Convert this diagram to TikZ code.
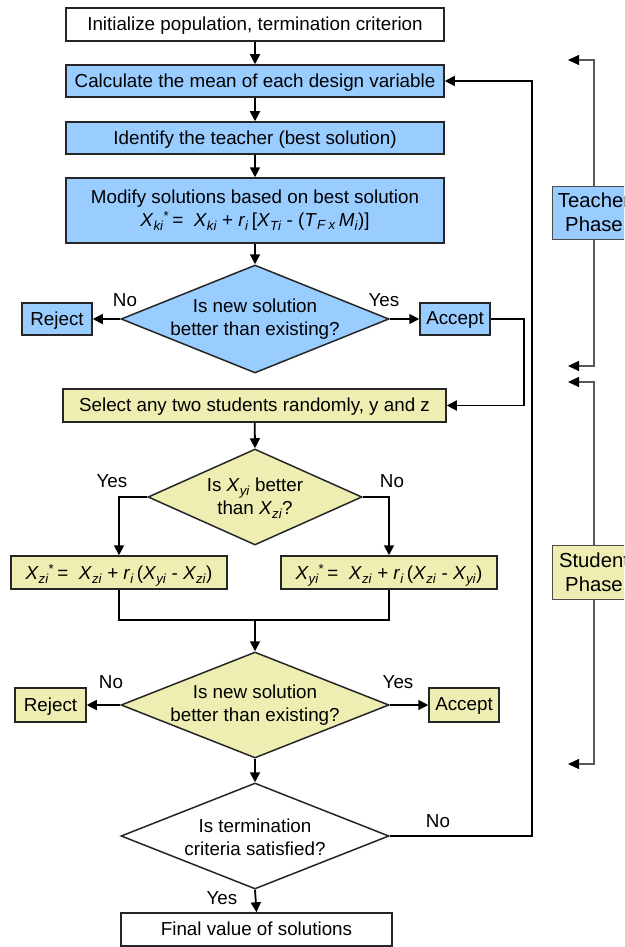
\documentclass[tikz,border=0pt]{standalone}
\usepackage{fontspec}
\setmainfont{Liberation Sans}
\usetikzlibrary{shapes.geometric,arrows.meta}
\definecolor{tblue}{RGB}{153,204,255}
\definecolor{syel}{RGB}{238,238,178}
\newcommand{\vsub}[1]{\textsubscript{\itshape #1}}
\newcommand{\vX}{\textit{X}}
\begin{document}
\begin{tikzpicture}[x=1pt,y=-1pt,
  font=\fontsize{18.8}{23}\selectfont,
  box/.style={draw=black!85, line width=1.5pt, inner sep=0pt, align=center},
  one/.style={text depth=1.5pt},
  dia/.style={draw=black!85, line width=1.5pt, diamond, inner sep=0pt},
  conn/.style={line width=1.8pt, -{Triangle[length=10pt,width=10pt]}},
  plain/.style={line width=1.8pt},
  brk/.style={draw=black!65, line width=1.2pt, -{Triangle[length=11pt,width=10pt,color=black,fill=black]}},
  phase/.style={draw=black!70, line width=1pt, inner sep=0pt, align=center, minimum width=84pt, font=\fontsize{20.3}{24}\selectfont},
  lbl/.style={inner sep=0pt, align=center}]
\clip (0,0) rectangle (624,947);
\fill[white] (0,0) rectangle (624,947);
% boxes
\node[box, one, fill=white, minimum width=378pt, minimum height=33pt] (init) at (255,24.5) {Initialize population, termination criterion};
\node[box, one, fill=tblue, minimum width=378pt, minimum height=32pt] (calc) at (255,81) {Calculate the mean of each design variable};
\node[box, one, fill=tblue, minimum width=378pt, minimum height=32pt] (ident) at (255,138) {Identify the teacher (best solution)};
\node[box, fill=tblue, minimum width=378pt, minimum height=65pt] (modify) at (255,210.5) {Modify solutions based on best solution\\
  \vX\vsub{ki}\textsuperscript{*}\,= \ \vX\vsub{ki} + \textit{r}\vsub{i}\,[\vX\vsub{Ti} - (\textit{T}\vsub{F}\,\vsub{x}\,\textit{M}\vsub{i})]};
\node[dia, fill=tblue, minimum width=268pt, minimum height=108pt] (d1) at (255,319) {};
\node[lbl] (d1t) at (255,319) {Is new solution\\better than existing?};
\node[box, one, fill=tblue, minimum width=70pt, minimum height=32pt] (rej1) at (57,319) {Reject};
\node[box, one, fill=tblue, minimum width=70pt, minimum height=32pt] (acc1) at (455,319) {Accept};
\node[box, one, fill=syel, minimum width=383pt, minimum height=33pt] (sel) at (254.5,405.5) {Select any two students randomly, y and z};
\node[dia, fill=syel, minimum width=214pt, minimum height=96pt] (d2) at (255,497) {};
\node[lbl] (d2t) at (255,498) {Is \vX\vsub{yi} better\\than \vX\vsub{zi}?};
\node[box, one, fill=syel, minimum width=216pt, minimum height=33pt] (bl) at (119,572.5) {\vX\vsub{zi}\textsuperscript{*}\,= \ \vX\vsub{zi} + \textit{r}\vsub{i}\,(\vX\vsub{yi} - \vX\vsub{zi})};
\node[box, one, fill=syel, minimum width=216pt, minimum height=33pt] (br) at (389,572.5) {\vX\vsub{yi}\textsuperscript{*}\,= \ \vX\vsub{zi} + \textit{r}\vsub{i}\,(\vX\vsub{zi} - \vX\vsub{yi})};
\node[dia, fill=syel, minimum width=268pt, minimum height=106pt] (d3) at (255,705) {};
\node[lbl] (d3t) at (255,705) {Is new solution\\better than existing?};
\node[box, one, fill=syel, minimum width=71pt, minimum height=34pt] (rej2) at (50.5,705) {Reject};
\node[box, one, fill=syel, minimum width=70pt, minimum height=34pt] (acc2) at (464,705) {Accept};
\node[dia, fill=white, minimum width=268pt, minimum height=106pt] (d4) at (255,836) {};
\node[lbl] (d4t) at (255,837) {Is termination\\criteria satisfied?};
\node[box, one, fill=white, minimum width=271pt, minimum height=33pt] (final) at (256.5,929.5) {Final value of solutions};
% phase boxes
\node[phase, fill=tblue, minimum height=53pt] (teach) at (594,212.5) {Teacher\\Phase};
\node[phase, fill=syel, minimum height=54pt] (stud) at (594,572) {Student\\Phase};
% labels
\node[lbl] (n1) at (125,300) {No};
\node[lbl] (y1) at (384,300) {Yes};
\node[lbl] (y2) at (112,481) {Yes};
\node[lbl] (n2) at (392,481) {No};
\node[lbl] (n3) at (111,682) {No};
\node[lbl] (y3) at (398,682) {Yes};
\node[lbl] (n4) at (438,821) {No};
\node[lbl] (y4) at (222,898) {Yes};
% coordinates
\coordinate (ac) at (524,319);
\coordinate (fb) at (532,836);
\coordinate (j) at (255,620);
\coordinate (t1) at (568,60);
\coordinate (t2) at (568,366);
\coordinate (s1) at (568,382);
\coordinate (s2) at (568,764);
% connectors
\draw[conn] (init) -- (calc);
\draw[conn] (calc) -- (ident);
\draw[conn] (ident) -- (modify);
\draw[conn] (modify) -- (d1.north);
\draw[conn] (d1.west) -- (rej1.east);
\draw[conn] (d1.east) -- (acc1.west);
\draw[conn] (acc1.east) -- (ac) |- (sel.east);
\draw[conn] (sel) -- (d2.north);
\draw[conn] (d2.west) -| (bl.north);
\draw[conn] (d2.east) -| (br.north);
\draw[plain] (bl.south) |- (j) -| (br.south);
\draw[conn] (j) -- (d3.north);
\draw[conn] (d3.west) -- (rej2.east);
\draw[conn] (d3.east) -- (acc2.west);
\draw[conn] (d3.south) -- (d4.north);
\draw[conn] (d4.south) -- (final.north);
\draw[conn] (d4.east) -- (fb) |- (calc.east);
% brackets
\draw[brk] (teach.north) |- (t1);
\draw[brk] (teach.south) |- (t2);
\draw[brk] (stud.north) |- (s1);
\draw[brk] (stud.south) |- (s2);
\end{tikzpicture}
\end{document}
